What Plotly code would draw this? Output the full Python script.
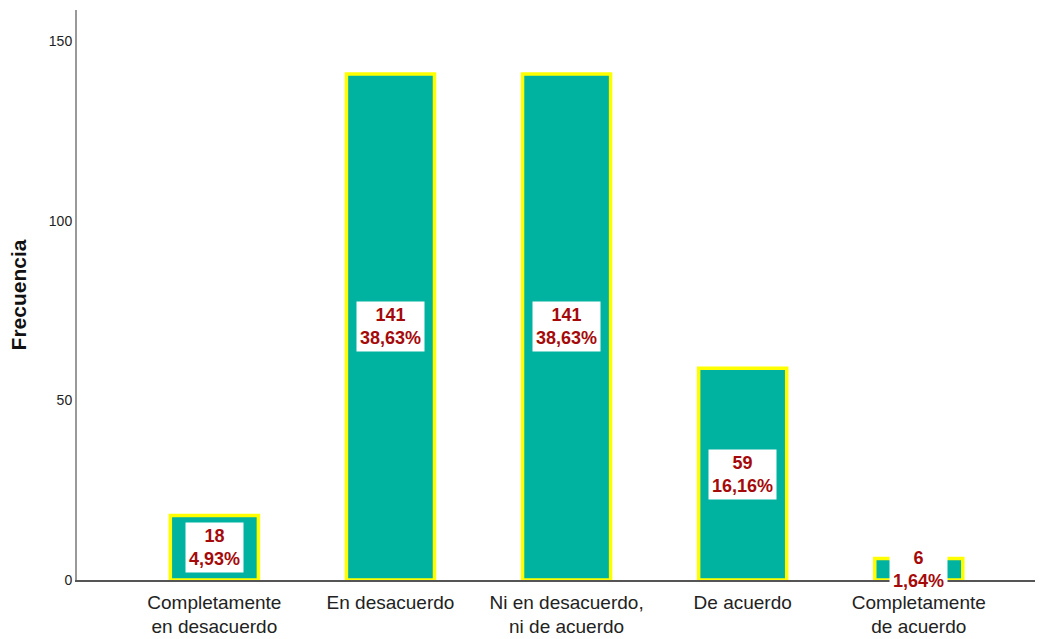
import plotly.graph_objects as go

# Respuestas de la escala Likert y sus frecuencias
categorias = [
    "Completamente<br>en desacuerdo",
    "En desacuerdo",
    "Ni en desacuerdo,<br>ni de acuerdo",
    "De acuerdo",
    "Completamente<br>de acuerdo",
]
frecuencias = [18, 141, 141, 59, 6]
y_ticks = [0, 50, 100, 150]

total = sum(frecuencias)
porcentajes = [f"{100 * f / total:.2f}".replace(".", ",") + "%" for f in frecuencias]
posiciones = list(range(len(categorias)))

fig = go.Figure()
fig.add_trace(go.Bar(
    x=posiciones,
    y=frecuencias,
    width=0.5,
    marker=dict(color="#00B2A0", line=dict(color="#FFFF00", width=3.5)),
    hoverinfo="skip",
))

# Etiquetas de frecuencia y porcentaje centradas en cada barra
for x, f, p in zip(posiciones, frecuencias, porcentajes):
    fig.add_annotation(
        x=x, y=f / 2, xref="x", yref="y",
        text=f"<b>{f}<br>{p}</b>",
        showarrow=False,
        font=dict(family="Arial, Liberation Sans", size=18, color="#A50A0A"),
        bgcolor="white",
        borderpad=3,
        align="center",
    )

fig.update_layout(
    width=1051, height=639,
    margin=dict(l=77, r=16, t=10, b=59),
    plot_bgcolor="white", paper_bgcolor="white",
    showlegend=False,
    font=dict(family="Arial, Liberation Sans", color="#222"),
)
fig.update_xaxes(
    range=[-0.78, 4.66],
    tickvals=posiciones, ticktext=categorias,
    tickfont=dict(size=19, color="#222"),
    ticklabelstandoff=4,
    automargin=False,
    showline=True, linecolor="#555", linewidth=1.5,
    showgrid=False, zeroline=False, ticks="",
)
fig.update_yaxes(
    range=[0, 158.8],
    tickvals=y_ticks,
    tickfont=dict(size=14, color="#222"),
    automargin=False,
    showline=True, linecolor="#999", linewidth=2,
    showgrid=False, zeroline=False, ticks="",
    title=dict(text="<b>Frecuencia</b>", font=dict(size=21, color="#111"), standoff=16),
)

fig.write_html("out.html")
